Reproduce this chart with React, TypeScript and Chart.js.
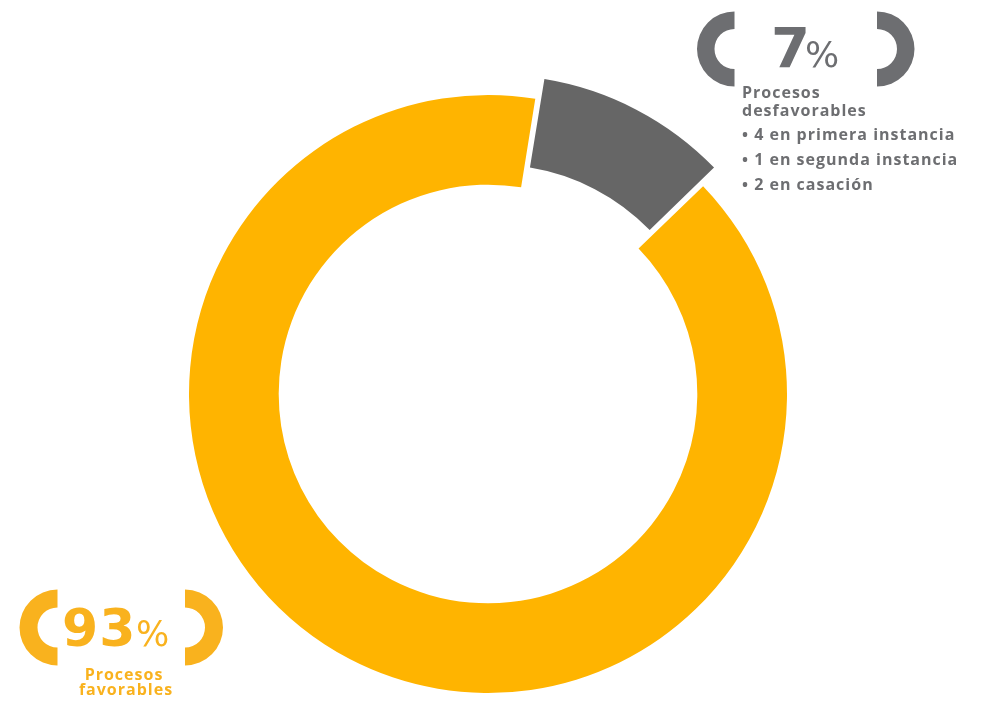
import React, { useEffect, useRef } from "react";
import { Chart, registerables } from "chart.js";

Chart.register(...registerables);

// ---- data ----
const categories = ["Procesos favorables", "Procesos desfavorables"];
const ringShares = [89.75, 10.25]; // share of the ring as drawn in the picture
const percentLabels = ["93", "7"];
const favorableCaption = ["Procesos", "favorables"];
const unfavorableCaption = ["Procesos", "desfavorables"];
const unfavorableDetails = [
  "• 4 en primera instancia",
  "• 1 en segunda instancia",
  "• 2 en casación",
];

// ---- styles ----
const sliceColors = ["#FFB400", "#666666"];
const yellowText = "#F9B21E";
const grayText = "#6D6E71";
const TEXT_FONT = "'Open Sans', 'Noto Sans', sans-serif";
const NUM_FONT = "'DejaVu Sans', sans-serif";

function bracket(
  ctx: CanvasRenderingContext2D,
  cx: number,
  cy: number,
  R: number,
  r: number,
  side: "left" | "right",
  color: string
) {
  ctx.save();
  ctx.fillStyle = color;
  ctx.beginPath();
  if (side === "left") {
    ctx.arc(cx, cy, R, Math.PI / 2, (3 * Math.PI) / 2);
    ctx.arc(cx, cy, r, (3 * Math.PI) / 2, Math.PI / 2, true);
  } else {
    ctx.arc(cx, cy, R, -Math.PI / 2, Math.PI / 2);
    ctx.arc(cx, cy, r, Math.PI / 2, -Math.PI / 2, true);
  }
  ctx.closePath();
  ctx.fill();
  ctx.restore();
}

function setSpacing(ctx: any, v: string) {
  if ("letterSpacing" in ctx) ctx.letterSpacing = v;
}

const labelsPlugin = {
  id: "percentLabels",
  afterDraw(chart: any) {
    const ctx: CanvasRenderingContext2D = chart.ctx;
    ctx.save();
    ctx.textBaseline = "alphabetic";

    // gray block (top right)
    bracket(ctx, 734.5, 49, 37.5, 20, "left", grayText);
    bracket(ctx, 877, 49, 37.5, 20, "right", grayText);
    ctx.fillStyle = grayText;
    ctx.textAlign = "left";
    setSpacing(ctx, "0px");
    ctx.font = `bold 56px ${NUM_FONT}`;
    ctx.fillText(percentLabels[1], 771, 67);
    ctx.font = `normal 36px ${NUM_FONT}`;
    ctx.fillText("%", 805, 67);
    setSpacing(ctx, "1px");
    ctx.font = `bold 16px ${TEXT_FONT}`;
    ctx.fillText(unfavorableCaption[0], 742, 98);
    ctx.fillText(unfavorableCaption[1], 742, 116);
    const detailBase = [140, 165, 190];
    unfavorableDetails.forEach((t, i) => ctx.fillText(t, 742, detailBase[i]));

    // yellow block (bottom left)
    bracket(ctx, 57.5, 627.5, 38, 20, "left", yellowText);
    bracket(ctx, 185, 627.5, 38, 20, "right", yellowText);
    ctx.fillStyle = yellowText;
    setSpacing(ctx, "1px");
    ctx.font = `bold 52px ${NUM_FONT}`;
    ctx.fillText(percentLabels[0], 62, 646);
    setSpacing(ctx, "0px");
    ctx.font = `normal 35px ${NUM_FONT}`;
    ctx.fillText("%", 136, 646);
    ctx.textAlign = "center";
    setSpacing(ctx, "1px");
    ctx.font = `bold 16px ${TEXT_FONT}`;
    ctx.fillText(favorableCaption[0], 124, 680);
    ctx.fillText(favorableCaption[1], 126, 695);
    ctx.restore();
  },
};

export default function App() {
  const ref = useRef<HTMLCanvasElement>(null);
  useEffect(() => {
    if (!ref.current) return;
    const chart = new Chart(ref.current, {
      type: "doughnut",
      data: {
        labels: categories,
        datasets: [
          {
            data: ringShares,
            backgroundColor: sliceColors,
            borderWidth: 0,
            offset: [0, 62],
            hoverOffset: 0,
          },
        ],
      },
      options: {
        responsive: false,
        animation: false,
        events: [],
        radius: 299,
        cutout: "70%",
        rotation: 46,
        layout: { padding: { left: 0, right: 6, top: 86, bottom: 0 } },
        plugins: { legend: { display: false }, tooltip: { enabled: false } },
      } as any,
      plugins: [labelsPlugin],
    });
    return () => chart.destroy();
  }, []);
  return (
    <div
      style={{
        position: "fixed",
        left: 0,
        top: 0,
        width: 982,
        height: 702,
        background: "#ffffff",
      }}
    >
      <canvas ref={ref} width={982} height={702} style={{ display: "block" }} />
    </div>
  );
}
